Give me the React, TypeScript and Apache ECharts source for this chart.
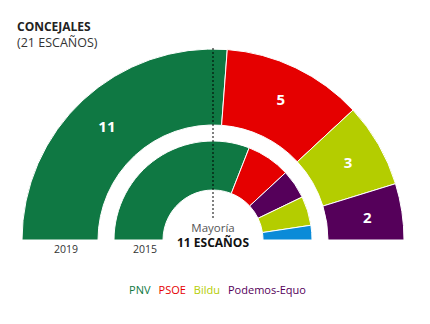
import React, { useEffect, useRef } from "react";
import * as echarts from "echarts";

const parties = ["PNV", "PSOE", "Bildu", "Podemos-Equo"];
const colors: Record<string, string> = {
  PNV: "#0f7843",
  PSOE: "#e50000",
  Bildu: "#b4cd00",
  "Podemos-Equo": "#55005a",
  PP: "#0a8bd8",
};
const seats2019 = [11, 5, 3, 2];
const parties2015 = ["PNV", "PSOE", "Podemos-Equo", "Bildu", "PP"];
const seats2015 = [13, 3, 2, 2, 1];
const yearLabels = ["2019", "2015"];

const CX = 213;
const CY = 240;
const FONT = "'Open Sans', 'Noto Sans', sans-serif";

export default function App() {
  const ref = useRef<HTMLDivElement>(null);
  useEffect(() => {
    if (!ref.current) return;
    const chart = echarts.init(ref.current, null, { renderer: "svg" });
    chart.setOption({
      animation: false,
      textStyle: { fontFamily: FONT },
      legend: {
        top: 279,
        left: "center",
        icon: "none",
        itemWidth: 0,
        itemHeight: 0,
        itemGap: 3,
        selectedMode: false,
        data: parties.map((p) => ({
          name: p,
          textStyle: { color: colors[p], fontSize: 11, fontFamily: FONT },
        })),
      },
      series: [
        {
          type: "pie",
          name: yearLabels[0],
          center: [CX, CY],
          radius: [115, 191],
          startAngle: 180,
          endAngle: 0,
          clockwise: true,
          silent: true,
          itemStyle: { borderColor: "#fff", borderWidth: 1 },
          label: {
            show: true,
            position: "inside",
            formatter: "{c}",
            color: "#fff",
            fontSize: 15,
            fontWeight: "bold",
            fontFamily: FONT,
          },
          labelLine: { show: false },
          data: parties.map((p, i) => ({
            name: p,
            value: seats2019[i],
            itemStyle: { color: colors[p] },
          })),
        },
        {
          type: "pie",
          name: yearLabels[1],
          center: [CX, CY],
          radius: [50, 99],
          startAngle: 180,
          endAngle: 0,
          clockwise: true,
          silent: true,
          itemStyle: { borderColor: "#fff", borderWidth: 1 },
          label: { show: false },
          labelLine: { show: false },
          data: parties2015.map((p, i) => ({
            name: p,
            value: seats2015[i],
            itemStyle: { color: colors[p] },
          })),
        },
      ],
      graphic: [
        {
          type: "text",
          x: 17,
          y: 26,
          style: {
            text: "CONCEJALES",
            font: `bold 12px ${FONT}`,
            fill: "#222",
            verticalAlign: "middle",
          },
        },
        {
          type: "text",
          x: 17,
          y: 42,
          style: {
            text: "(21 ESCAÑOS)",
            font: `12.5px ${FONT}`,
            fill: "#333",
            verticalAlign: "middle",
          },
        },
        {
          type: "line",
          z: 100,
          shape: { x1: CX, y1: 48, x2: CX, y2: 220 },
          style: { stroke: "#000", lineWidth: 1, lineDash: [2, 2] },
        },
        {
          type: "text",
          z: 100,
          x: CX,
          y: 227,
          style: {
            text: "Mayoría",
            font: `11.5px ${FONT}`,
            fill: "#555",
            align: "center",
            verticalAlign: "middle",
          },
        },
        {
          type: "text",
          z: 100,
          x: CX,
          y: 242,
          style: {
            text: "11 ESCAÑOS",
            font: `bold 12px ${FONT}`,
            fill: "#111",
            align: "center",
            verticalAlign: "middle",
          },
        },
        {
          type: "text",
          x: 66,
          y: 249,
          style: {
            text: yearLabels[0],
            font: `10.5px ${FONT}`,
            fill: "#333",
            align: "center",
            verticalAlign: "middle",
          },
        },
        {
          type: "text",
          x: 145,
          y: 249,
          style: {
            text: yearLabels[1],
            font: `10.5px ${FONT}`,
            fill: "#333",
            align: "center",
            verticalAlign: "middle",
          },
        },
      ],
    });
    return () => chart.dispose();
  }, []);
  return (
    <div
      ref={ref}
      style={{ position: "absolute", left: 0, top: 0, width: 430, height: 324 }}
    />
  );
}
